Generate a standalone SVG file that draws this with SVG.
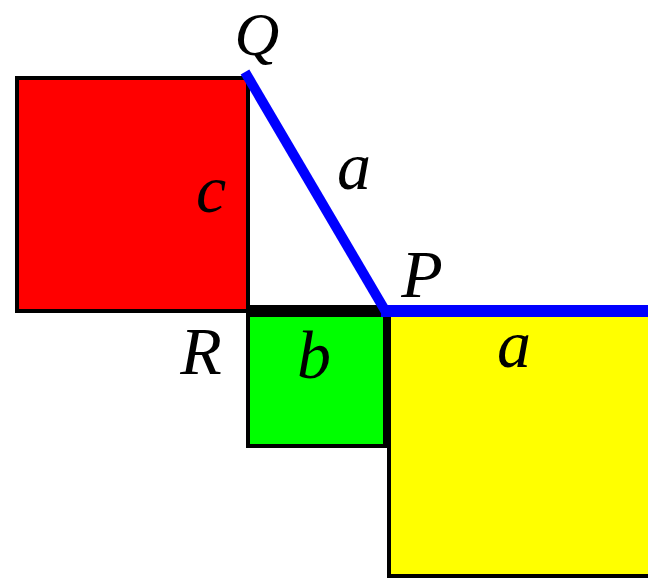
<svg xmlns="http://www.w3.org/2000/svg" width="648" height="578" viewBox="0 0 648 578">
<style>
.sq{stroke:#000;stroke-width:4}
.lbl{font-family:"Liberation Serif","Times New Roman",serif;font-style:italic;font-size:68px;fill:#000;text-anchor:middle}
.blue{stroke:#0000ff;fill:none}
</style>
<rect width="648" height="578" fill="#fff"/>
<g id="square-c">
<rect class="sq" x="17" y="78" width="231" height="233" fill="#ff0000"/>
<text class="lbl" x="211" y="212">c</text>
</g>
<g id="square-b">
<rect class="sq" x="248" y="309" width="137" height="137" fill="#00ff00"/>
<text class="lbl" x="314" y="378">b</text>
</g>
<g id="square-a">
<rect class="sq" x="389" y="311" width="270" height="265" fill="#ffff00"/>
<text class="lbl" x="514" y="367">a</text>
</g>
<g id="connectors">
<line x1="246" y1="311" x2="386" y2="311" stroke="#000" stroke-width="12"/>
<line class="blue" x1="381" y1="311" x2="648" y2="311" stroke-width="12"/>
<line class="blue" x1="245" y1="72" x2="386" y2="312" stroke-width="10"/>
<text class="lbl" x="354" y="189">a</text>
</g>
<g id="point-Q"><text class="lbl" x="257" y="55" style="font-size:62px">Q</text></g>
<g id="point-P"><text class="lbl" x="422" y="297">P</text></g>
<g id="point-R"><text class="lbl" x="201" y="374">R</text></g>
</svg>
